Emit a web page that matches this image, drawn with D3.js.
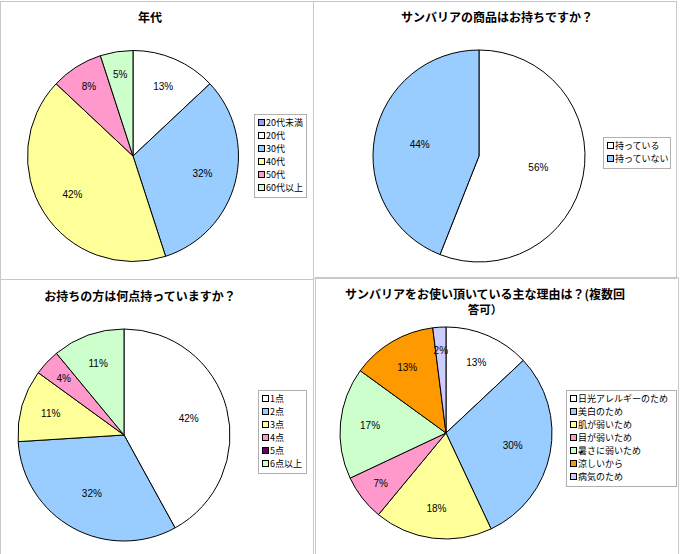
<!DOCTYPE html>
<html><head><meta charset="utf-8">
<script src="https://cdn.jsdelivr.net/npm/d3@7"></script>
<style>body{margin:0;background:#fff}svg{display:block;font-family:"Noto Sans CJK JP","DejaVu Sans",sans-serif}</style>
</head><body><svg id="c" width="680" height="554"></svg>
<script>
// Chart 1: 年代
const ageCats = ["20代未満","20代","30代","40代","50代","60代以上"];
const ageVals = [0,13,32,42,8,5];
const ageColors = ["#9999FF","#FFFFFF","#99CCFF","#FFFF99","#FF99CC","#CCFFCC"];
// Chart 2: 商品の所持
const ownCats = ["持っている","持っていない"];
const ownVals = [56,44];
const ownColors = ["#FFFFFF","#99CCFF"];
// Chart 3: 所持点数
const cntCats = ["1点","2点","3点","4点","5点","6点以上"];
const cntVals = [42,32,11,4,0,11];
const cntColors = ["#FFFFFF","#99CCFF","#FFFF99","#FF99CC","#660066","#CCFFCC"];
// Chart 4: 理由
const rsnCats = ["日光アレルギーのため","美白のため","肌が弱いため","目が弱いため","暑さに弱いため","涼しいから","病気のため"];
const rsnVals = [13,30,18,7,17,13,2];
const rsnColors = ["#FFFFFF","#99CCFF","#FFFF99","#FF99CC","#CCFFCC","#FF9900","#CCCCFF"];

const svg = d3.select("#c");
// panel borders
const panels = [
  {x:0.5,y:1.5,w:313,h:278},
  {x:313.5,y:1.5,w:363,h:277},
  {x:0.5,y:279.5,w:313,h:280},
  {x:315.5,y:277.5,w:363,h:280}
];
panels.forEach(p=>svg.append("rect").attr("x",p.x).attr("y",p.y).attr("width",p.w).attr("height",p.h)
  .attr("fill","none").attr("stroke","#C8C8C8").attr("stroke-width",1));

function drawPie(cfg){
  const g = svg.append("g");
  const total = d3.sum(cfg.vals);
  const pie = d3.pie().sort(null).value(d=>d)(cfg.vals);
  const arc = d3.arc().innerRadius(0).outerRadius(cfg.r);
  const pg = g.append("g").attr("transform",`translate(${cfg.cx},${cfg.cy})`);
  pg.selectAll("path").data(pie).join("path")
    .filter(d=>d.value>0)
    .attr("d",arc).attr("fill",(d,i)=>cfg.colors[d.index])
    .attr("stroke","#000").attr("stroke-width",1).attr("stroke-linejoin","round");
  pg.selectAll("text").data(pie.filter(d=>d.value>0)).join("text")
    .attr("transform",d=>{
      const f = d.value/total;
      const k = f<0.1?0.78:(f<0.2?0.72:cfg.bigK);
      const a = (d.startAngle+d.endAngle)/2;
      return `translate(${Math.sin(a)*cfg.r*k},${-Math.cos(a)*cfg.r*k})`;
    })
    .attr("text-anchor","middle").attr("dy","0.35em")
    .attr("font-size",10).attr("font-family","Arial, 'Liberation Sans', sans-serif")
    .text(d=>Math.round(d.value/total*100)+"%");
  // title
  cfg.title.forEach((t,i)=>g.append("text").attr("x",cfg.tx).attr("y",cfg.ty+i*15)
    .attr("text-anchor","middle").attr("font-size",i>0?11.5:12).attr("font-weight","bold").text(t));
  // legend
  const lg = g.append("g").attr("transform",`translate(${cfg.lx},${cfg.ly})`);
  lg.append("rect").attr("x",0.5).attr("y",0.5).attr("width",cfg.lw).attr("height",cfg.cats.length*13+5)
    .attr("fill","#fff").attr("stroke","#B0B0B0");
  cfg.cats.forEach((c,i)=>{
    lg.append("rect").attr("x",4.5).attr("y",5.5+i*13).attr("width",6).attr("height",6)
      .attr("fill",cfg.colors[i]).attr("stroke","#000").attr("stroke-width",1);
    lg.append("text").attr("x",12).attr("y",8.5+i*13).attr("dy","0.35em")
      .attr("font-size",9).text(c);
  });
}

drawPie({cats:ageCats,vals:ageVals,colors:ageColors,cx:133,cy:156,r:105.5,bigK:0.68,
  title:["年代"],tx:150,ty:22,lx:254,ly:114,lw:52});
drawPie({cats:ownCats,vals:ownVals,colors:ownColors,cx:479,cy:156,r:106,bigK:0.57,
  title:["サンバリアの商品はお持ちですか？"],tx:497,ty:22,lx:603,ly:137,lw:67});
drawPie({cats:cntCats,vals:cntVals,colors:cntColors,cx:124,cy:435,r:106,bigK:0.63,
  title:["お持ちの方は何点持っていますか？"],tx:140,ty:301,lx:258,ly:390,lw:48});
drawPie({cats:rsnCats,vals:rsnVals,colors:rsnColors,cx:446,cy:433,r:106,bigK:0.64,
  title:["サンバリアをお使い頂いている主な理由は？(複数回","答可）"],tx:485,ty:299,lx:566,ly:390,lw:110});
</script></body></html>
